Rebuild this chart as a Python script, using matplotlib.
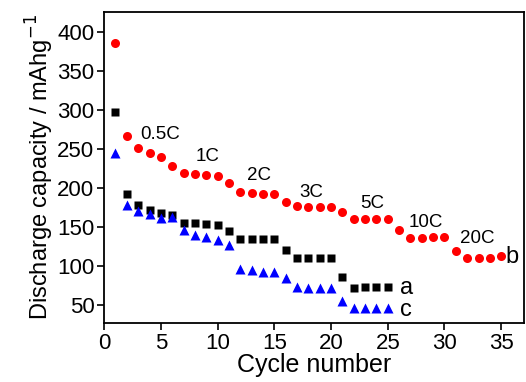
import numpy as np
import matplotlib
matplotlib.use("Agg")
import matplotlib.pyplot as plt

plt.rcParams['font.family'] = ['Liberation Sans', 'DejaVu Sans']

# discharge capacity per cycle (mAh/g)
cycles_b = np.arange(1, 36)
cap_b = [386, 267, 252, 245, 240, 229, 220, 218, 217, 215,
         207, 195, 194, 193, 193, 182, 177, 176, 176, 176,
         169, 160, 160, 160, 160, 147, 136, 136, 138, 137,
         119, 111, 110, 110, 113]

cycles_a = np.arange(1, 26)
cap_a = [297, 192, 179, 172, 168, 165, 155, 155, 154, 153,
         145, 135, 135, 135, 135, 121, 110, 110, 110, 110,
         86, 72, 73, 73, 73]

cycles_c = np.arange(1, 26)
cap_c = [245, 179, 171, 167, 162, 163, 146, 140, 137, 134,
         127, 97, 95, 93, 92, 85, 73, 72, 72, 72,
         56, 46, 46, 46, 46]

rate_labels = ['0.5C', '1C', '2C', '3C', '5C', '10C', '20C']
rate_pos = [(3.2, 269), (8.1, 240), (12.6, 216), (17.2, 195),
            (22.6, 180), (26.8, 156), (31.4, 135)]

fig = plt.figure(figsize=(5.26, 3.82), dpi=100)
ax = fig.add_axes([0.198, 0.154, 0.798, 0.815])

ax.plot(cycles_a, cap_a, 's', color='black', ms=5.5, mec='none')
ax.plot(cycles_b, cap_b, 'o', color='#ff0000', ms=6.5, mec='none')
ax.plot(cycles_c, cap_c, '^', color='#0000ff', ms=6.5, mec='none')

for lab, (x, y) in zip(rate_labels, rate_pos):
    ax.text(x, y, lab, fontsize=13.5, va='center', ha='left')

ax.text(35.4, 112, 'b', fontsize=17, va='center', ha='left')
ax.text(26.1, 72, 'a', fontsize=17, va='center', ha='left')
ax.text(26.1, 44, 'c', fontsize=17, va='center', ha='left')

ax.set_xlim(0, 37)
ax.set_ylim(27, 426)
ax.set_xticks(np.arange(0, 36, 5))
ax.set_yticks(np.arange(50, 401, 50))
ax.tick_params(direction='out', length=5, width=1.2, labelsize=16,
               top=False, right=False, pad=2)
for s in ax.spines.values():
    s.set_linewidth(1.3)

ax.set_xlabel('Cycle number', fontsize=18, labelpad=-1)
ax.set_ylabel('Discharge capacity / mAhg$^{-1}$', fontsize=17, labelpad=1)

fig.savefig('out.png', dpi=100)
